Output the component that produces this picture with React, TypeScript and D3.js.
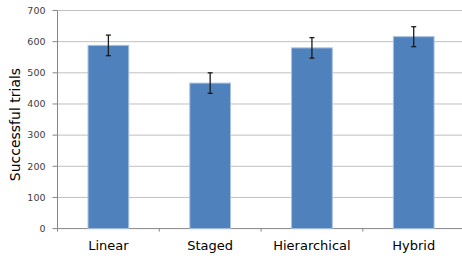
import * as d3 from "d3";

const categories = ["Linear", "Staged", "Hierarchical", "Hybrid"];
const values = [588, 467, 580, 616];
const errors = [33, 33, 33, 32];
const yTicks = [0, 100, 200, 300, 400, 500, 600, 700];

const width = 462;
const height = 260;
const left = 57.5;
const right = 464.6;
const top = 10.5;
const bottom = 228.6;

export default function App() {
  const x = d3
    .scaleBand<string>()
    .domain(categories)
    .range([left, right])
    .paddingInner(0.6)
    .paddingOuter(0.3);
  const y = d3.scaleLinear().domain([0, 700]).range([bottom, top]);
  const step = x.step();
  const bw = x.bandwidth();
  const boundaries = categories.map((c) => (x(c) as number) - step * 0.3).concat([right]);

  return (
    <svg
      width={width}
      height={height}
      style={{ position: "absolute", left: 0, top: 0, background: "#fff" }}
      fontFamily="DejaVu Sans"
    >
      {yTicks.map((t) => (
        <g key={t}>
          {t > 0 && (
            <line x1={left} x2={width} y1={y(t)} y2={y(t)} stroke="#c0c0c0" strokeWidth={1} />
          )}
          <line x1={left - 5} x2={left} y1={y(t)} y2={y(t)} stroke="#868686" />
          <text
            x={left - 12}
            y={y(t)}
            dy="0.35em"
            textAnchor="end"
            fontSize={9.5}
            fill="#404040"
          >
            {t}
          </text>
        </g>
      ))}
      <line x1={left} x2={left} y1={top} y2={bottom} stroke="#868686" />
      <line x1={left} x2={width} y1={bottom} y2={bottom} stroke="#868686" />
      {boundaries.map((b, i) => (
        <line key={i} x1={b} x2={b} y1={bottom} y2={bottom + 3} stroke="#868686" />
      ))}
      {categories.map((c, i) => {
        const x0 = x(c) as number;
        const cx = x0 + bw / 2;
        return (
          <g key={c}>
            <rect
              x={x0}
              y={y(values[i])}
              width={bw}
              height={bottom - y(values[i])}
              fill="#4f81bd"
              stroke="#a9c0df"
              strokeWidth={1}
            />
            <line
              x1={cx}
              x2={cx}
              y1={y(values[i] + errors[i])}
              y2={y(values[i] - errors[i])}
              stroke="#1a1a1a"
              strokeWidth={1.3}
            />
            <line
              x1={cx - 2.5}
              x2={cx + 2.5}
              y1={y(values[i] + errors[i])}
              y2={y(values[i] + errors[i])}
              stroke="#1a1a1a"
              strokeWidth={1.3}
            />
            <line
              x1={cx - 2.5}
              x2={cx + 2.5}
              y1={y(values[i] - errors[i])}
              y2={y(values[i] - errors[i])}
              stroke="#1a1a1a"
              strokeWidth={1.3}
            />
            <text x={cx} y={250} textAnchor="middle" fontSize={13} fill="#000">
              {c}
            </text>
          </g>
        );
      })}
      <text
        transform={`translate(20,${(top + bottom) / 2 + 5}) rotate(-90)`}
        textAnchor="middle"
        fontSize={14}
        fill="#000"
      >
        Successful trials
      </text>
    </svg>
  );
}
